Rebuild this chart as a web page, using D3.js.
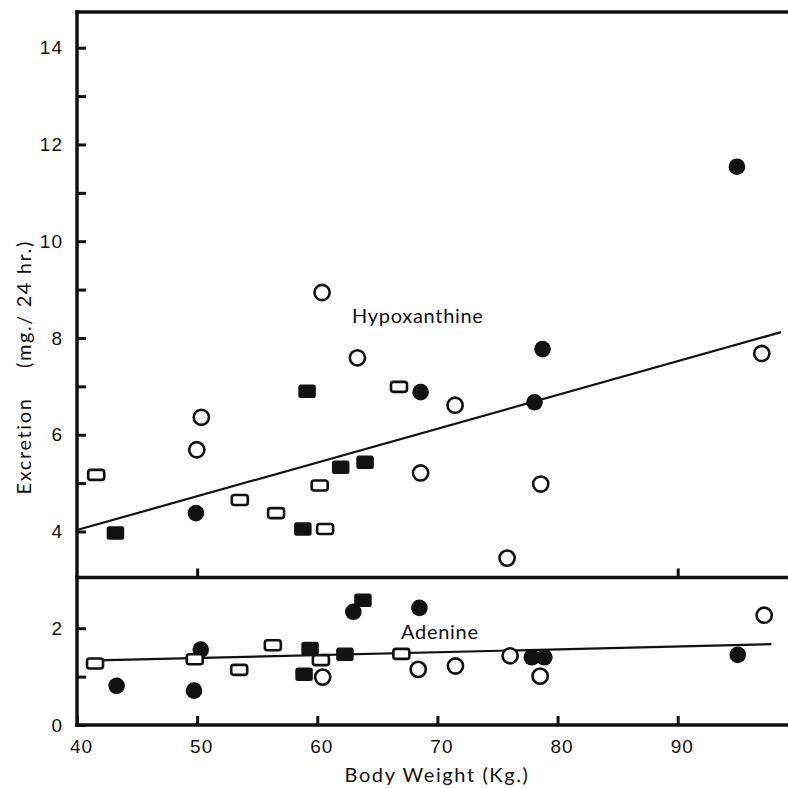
<!DOCTYPE html>
<meta charset="utf-8">
<style>

body {
  margin: 0;
  background: #fff;
}

svg {
  font-family: Lato, "Open Sans", sans-serif;
}

.axis path {
  display: none;
}

.axis line {
  stroke: #111;
  stroke-width: 3;
}

.axis text {
  font-size: 19px;
  fill: #111;
  letter-spacing: 1px;
}

.frame {
  stroke: #111;
  stroke-width: 3.5;
  fill: none;
}

.fit {
  stroke: #111;
  stroke-width: 2.2;
  fill: none;
}

.label {
  font-size: 20px;
  fill: #111;
  letter-spacing: 0.7px;
}

.title {
  font-size: 20px;
  fill: #111;
  letter-spacing: 1.6px;
}

</style>
<body>
<script src="https://cdn.jsdelivr.net/npm/d3@7"></script>
<script>

// Hypoxanthine (upper panel)
var hypoOpenCircleX = [49.97, 50.35, 60.4, 63.34, 68.6, 71.47, 75.8, 78.6, 97.0],
    hypoOpenCircleY = [5.69, 6.36, 8.94, 7.59, 5.21, 6.61, 3.45, 4.98, 7.68];
var hypoFilledCircleX = [49.9, 68.6, 78.08, 78.75, 94.93],
    hypoFilledCircleY = [4.38, 6.88, 6.67, 7.77, 11.54];
var hypoOpenSquareX = [41.6, 53.55, 56.57, 60.65, 60.2, 66.8],
    hypoOpenSquareY = [5.17, 4.65, 4.38, 4.05, 4.95, 6.99];
var hypoFilledSquareX = [43.2, 58.8, 59.15, 61.95, 63.98],
    hypoFilledSquareY = [3.97, 4.05, 6.9, 5.33, 5.43];

// Adenine (lower panel)
var adenOpenCircleX = [60.45, 68.4, 71.5, 76.05, 78.55, 97.2],
    adenOpenCircleY = [0.99, 1.15, 1.22, 1.43, 1.01, 2.27];
var adenFilledCircleX = [43.3, 49.74, 50.3, 63.0, 68.5, 77.86, 78.9, 95.0],
    adenFilledCircleY = [0.81, 0.71, 1.56, 2.34, 2.42, 1.4, 1.4, 1.45];
var adenOpenSquareX = [41.5, 49.8, 53.5, 56.3, 60.3, 67.0],
    adenOpenSquareY = [1.27, 1.36, 1.14, 1.65, 1.34, 1.47];
var adenFilledSquareX = [59.4, 58.9, 62.3, 63.8],
    adenFilledSquareY = [1.58, 1.05, 1.46, 2.58];

// fitted lines, [x0, y0, x1, y1]
var hypoFit = [40, 4.03, 98.6, 8.12];
var adenFit = [40.8, 1.33, 97.8, 1.67];

var xTicks = [40, 50, 60, 70, 80, 90],
    yTicks = [0, 1, 2, 4, 5, 6, 7, 8, 9, 10, 11, 12, 13, 14],
    splitTicks = [50, 90];

var width = 788,
    height = 788;

var x = d3.scaleLinear()
    .domain([40, 90])
    .range([77, 677.7]);

var y = d3.scaleLinear()
    .domain([0, 14])
    .range([725, 47.7]);

var yTop = 14.74,
    ySplit = 3.05,
    xRight = x.invert(width);

var svg = d3.select("body").append("svg")
    .attr("width", width)
    .attr("height", height);

// Left axis
svg.append("g")
    .attr("class", "axis")
    .attr("transform", "translate(" + x(40) + ",0)")
    .call(d3.axisLeft(y).tickValues(yTicks).tickSize(-9).tickPadding(14)
      .tickFormat(function(d) { return d % 2 === 0 ? d : ""; }));

// Bottom axis
svg.append("g")
    .attr("class", "axis")
    .attr("transform", "translate(0," + y(0) + ")")
    .call(d3.axisBottom(x).tickValues(xTicks).tickSize(-9).tickPadding(15))
  .selectAll("text")
    .attr("dx", 4);

// Panel divider
svg.append("g")
    .attr("class", "axis")
    .attr("transform", "translate(0," + y(ySplit) + ")")
    .call(d3.axisBottom(x).tickValues(splitTicks).tickSize(-9).tickFormat(""));

// Frame lines
var frame = [
  [40, 0, 40, yTop],
  [40, yTop, xRight, yTop],
  [40, 0, xRight, 0],
  [40, ySplit, xRight, ySplit]
];

svg.selectAll(".frame")
    .data(frame)
  .enter().append("line")
    .attr("class", "frame")
    .attr("x1", function(d) { return x(d[0]); })
    .attr("y1", function(d) { return y(d[1]); })
    .attr("x2", function(d) { return x(d[2]); })
    .attr("y2", function(d) { return y(d[3]); })
    .attr("stroke-linecap", "square");

// Fitted lines
svg.selectAll(".fit")
    .data([hypoFit, adenFit])
  .enter().append("line")
    .attr("class", "fit")
    .attr("x1", function(d) { return x(d[0]); })
    .attr("y1", function(d) { return y(d[1]); })
    .attr("x2", function(d) { return x(d[2]); })
    .attr("y2", function(d) { return y(d[3]); });

function zip(xs, ys) {
  return xs.map(function(v, i) { return [v, ys[i]]; });
}

function circles(xs, ys, filled) {
  svg.append("g").selectAll("circle")
      .data(zip(xs, ys))
    .enter().append("circle")
      .attr("cx", function(d) { return x(d[0]); })
      .attr("cy", function(d) { return y(d[1]); })
      .attr("r", filled ? 8.3 : 7.6)
      .attr("fill", filled ? "#111" : "#fff")
      .attr("stroke", "#111")
      .attr("stroke-width", filled ? 0 : 2.6);
}

function squares(xs, ys, filled) {
  var w = filled ? 17.5 : 16,
      h = filled ? 13.5 : 10;
  svg.append("g").selectAll("rect")
      .data(zip(xs, ys))
    .enter().append("rect")
      .attr("x", function(d) { return x(d[0]) - w / 2; })
      .attr("y", function(d) { return y(d[1]) - h / 2; })
      .attr("width", w)
      .attr("height", h)
      .attr("rx", 2.5)
      .attr("fill", filled ? "#111" : "#fff")
      .attr("stroke", "#111")
      .attr("stroke-width", filled ? 0 : 2.6);
}

circles(hypoOpenCircleX, hypoOpenCircleY, false);
circles(hypoFilledCircleX, hypoFilledCircleY, true);
squares(hypoOpenSquareX, hypoOpenSquareY, false);
squares(hypoFilledSquareX, hypoFilledSquareY, true);

circles(adenOpenCircleX, adenOpenCircleY, false);
circles(adenFilledCircleX, adenFilledCircleY, true);
squares(adenOpenSquareX, adenOpenSquareY, false);
squares(adenFilledSquareX, adenFilledSquareY, true);

// Series labels
svg.append("text")
    .attr("class", "label")
    .attr("x", 352)
    .attr("y", 323)
    .text("Hypoxanthine");

svg.append("text")
    .attr("class", "label")
    .attr("x", 401)
    .attr("y", 639)
    .text("Adenine");

// Axis titles
svg.append("text")
    .attr("class", "title")
    .attr("x", 437)
    .attr("y", 782)
    .attr("text-anchor", "middle")
    .text("Body Weight (Kg.)");

svg.append("text")
    .attr("class", "title")
    .attr("transform", "translate(31,446) rotate(-90)")
    .attr("text-anchor", "middle")
    .text("Excretion");

svg.append("text")
    .attr("class", "title")
    .attr("transform", "translate(31,304) rotate(-90)")
    .attr("text-anchor", "middle")
    .text("(mg./ 24 hr.)");

</script>
